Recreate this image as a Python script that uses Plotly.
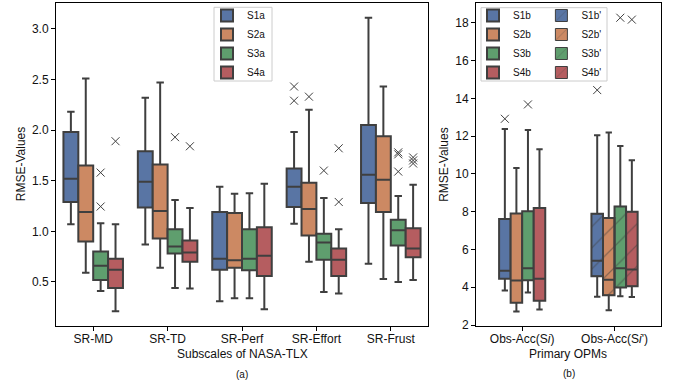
import plotly.graph_objects as go

# ---------------- data: panel (a) ----------------
categories_a = ["SR-MD", "SR-TD", "SR-Perf", "SR-Effort", "SR-Frust"]
names_a = ["S1a", "S2a", "S3a", "S4a"]
# each row: one series, values across the 5 categories
lower_a = [[1.07, 0.87, 0.31, 1.075, 0.68],
           [0.59, 0.64, 0.34, 0.70, 0.53],
           [0.41, 0.44, 0.34, 0.40, 0.50],
           [0.21, 0.435, 0.23, 0.385, 0.52]]
q1_a = [[1.29, 1.235, 0.62, 1.24, 1.28],
        [0.90, 0.93, 0.64, 0.96, 1.19],
        [0.52, 0.78, 0.615, 0.72, 0.86],
        [0.44, 0.70, 0.56, 0.56, 0.745]]
median_a = [[1.52, 1.49, 0.73, 1.44, 1.56],
            [1.19, 1.20, 0.715, 1.22, 1.51],
            [0.66, 0.85, 0.73, 0.89, 1.01],
            [0.62, 0.79, 0.76, 0.72, 0.83]]
q3_a = [[1.98, 1.79, 1.19, 1.62, 2.05],
        [1.65, 1.66, 1.18, 1.48, 1.94],
        [0.80, 1.02, 1.02, 0.975, 1.115],
        [0.73, 0.91, 1.04, 0.83, 1.03]]
upper_a = [[2.18, 2.32, 1.44, 1.98, 3.11],
           [2.51, 2.47, 1.37, 2.20, 2.43],
           [1.08, 1.31, 1.375, 1.33, 1.35],
           [1.07, 1.23, 1.47, 1.02, 1.46]]
outliers_a = [[[], [], [], [2.43, 2.29], []],
              [[], [], [], [2.33], []],
              [[1.58, 1.245], [1.93], [], [1.60], [1.78, 1.76, 1.59]],
              [[1.89], [1.84], [], [1.82, 1.29], [1.73, 1.70, 1.67]]]

# ---------------- data: panel (b) ----------------
categories_b = ["Obs-Acc(S<i>i</i>)", "Obs-Acc(S<i>i</i>')"]
names_b = ["S1b", "S2b", "S3b", "S4b"]
names_b2 = ["S1b'", "S2b'", "S3b'", "S4b'"]
lower_b = [3.83, 2.72, 3.73, 2.83]
q1_b = [4.45, 3.18, 4.37, 3.29]
median_b = [4.88, 4.36, 5.01, 4.45]
q3_b = [7.61, 7.91, 8.02, 8.20]
upper_b = [12.38, 10.31, 12.33, 11.31]
outliers_b = [[12.92], [], [13.68], []]

lower_b2 = [3.50, 2.79, 3.53, 3.48]
q1_b2 = [4.59, 3.58, 3.99, 4.06]
median_b2 = [5.41, 4.40, 5.01, 4.94]
q3_b2 = [7.89, 7.67, 8.28, 8.00]
upper_b2 = [12.05, 12.20, 11.48, 10.73]
outliers_b2 = [[14.44], [], [18.27], [18.17]]

# ---------------- styling ----------------
colors = ["#5975A4", "#CC8963", "#5F9E6E", "#B55D60"]
edge = "#3f3f3f"
FONT = "Liberation Sans, Arial, Helvetica, sans-serif"
W_A = 0.2
W_B = 0.125
OUT_MARKER = dict(symbol="x-thin-open", size=8, color=edge,
                  line=dict(color=edge, width=1))

fig = go.Figure()

# panel (a)
for i in range(4):
    pos = [j + (i - 1.5) * W_A for j in range(len(categories_a))]
    fig.add_trace(go.Box(
        x=pos, q1=q1_a[i], median=median_a[i], q3=q3_a[i],
        lowerfence=lower_a[i], upperfence=upper_a[i],
        width=W_A, fillcolor=colors[i], line=dict(color=edge, width=2),
        whiskerwidth=0.5, boxpoints=False, name=names_a[i],
        xaxis="x", yaxis="y", legend="legend", hoverinfo="skip"))
for i in range(4):
    ox, oy = [], []
    for j in range(len(categories_a)):
        for v in outliers_a[i][j]:
            ox.append(j + (i - 1.5) * W_A)
            oy.append(v)
    fig.add_trace(go.Scatter(
        x=ox, y=oy, mode="markers", showlegend=False, marker=OUT_MARKER,
        xaxis="x", yaxis="y", hoverinfo="skip"))

# panel (b) first category
for i in range(4):
    pos = [0 + (i - 1.5) * W_B]
    fig.add_trace(go.Box(
        x=pos, q1=[q1_b[i]], median=[median_b[i]], q3=[q3_b[i]],
        lowerfence=[lower_b[i]], upperfence=[upper_b[i]],
        width=W_B, fillcolor=colors[i], line=dict(color=edge, width=2),
        whiskerwidth=0.55, boxpoints=False, name=names_b[i],
        xaxis="x2", yaxis="y2", legend="legend2", hoverinfo="skip"))
    if outliers_b[i]:
        fig.add_trace(go.Scatter(
            x=pos * len(outliers_b[i]), y=outliers_b[i], mode="markers",
            showlegend=False, marker=OUT_MARKER,
            xaxis="x2", yaxis="y2", hoverinfo="skip"))

# panel (b) second category (hatched)
for i in range(4):
    pos = [1 + (i - 1.5) * W_B]
    fig.add_trace(go.Bar(
        x=pos, base=[q1_b2[i]], y=[q3_b2[i] - q1_b2[i]], width=[W_B],
        marker=dict(color=colors[i], line=dict(color=edge, width=1),
                    pattern=dict(shape="/", fgcolor=edge, bgcolor=colors[i],
                                 size=15, solidity=0.08)),
        name=names_b2[i], xaxis="x2", yaxis="y2", legend="legend3",
        hoverinfo="skip"))
    fig.add_trace(go.Box(
        x=pos, q1=[q1_b2[i]], median=[median_b2[i]], q3=[q3_b2[i]],
        lowerfence=[lower_b2[i]], upperfence=[upper_b2[i]],
        width=W_B, fillcolor="rgba(0,0,0,0)", line=dict(color=edge, width=2),
        whiskerwidth=0.55, boxpoints=False, name=names_b2[i], showlegend=False,
        xaxis="x2", yaxis="y2", hoverinfo="skip"))
    if outliers_b2[i]:
        fig.add_trace(go.Scatter(
            x=pos * len(outliers_b2[i]), y=outliers_b2[i], mode="markers",
            showlegend=False, marker=OUT_MARKER,
            xaxis="x2", yaxis="y2", hoverinfo="skip"))

axis_common = dict(showline=True, linecolor="black", linewidth=1, mirror=True,
                   ticks="outside", ticklen=4, tickcolor="black", tickwidth=1,
                   showgrid=False, zeroline=False, automargin=False,
                   tickfont=dict(family=FONT, size=12, color="#111"))
ydom = [1 - 326 / 386, 1 - 3 / 386]

legend_common = dict(xanchor="left", yanchor="top", bgcolor="rgba(0,0,0,0)",
                     borderwidth=0, tracegroupgap=0, traceorder="normal",
                     font=dict(family=FONT, size=10, color="#111"))


def ann(text, x, y, size=12, angle=0):
    return dict(text=text, x=x / 677, y=1 - y / 386, xref="paper",
                yref="paper", xanchor="center", yanchor="middle",
                textangle=angle, showarrow=False,
                font=dict(family=FONT, size=size, color="#111"))


fig.update_layout(
    width=677, height=386,
    margin=dict(l=0, r=0, t=0, b=0, autoexpand=False),
    paper_bgcolor="white", plot_bgcolor="white",
    boxmode="overlay", barmode="overlay",
    font=dict(family=FONT, size=12, color="#111"),
    xaxis=dict(domain=[56 / 677, 428 / 677], range=[-0.5, 4.5],
               tickvals=list(range(len(categories_a))), ticktext=categories_a,
               ticklabelstandoff=-2, anchor="y", **axis_common),
    yaxis=dict(domain=ydom, range=[0.065, 3.255],
               tickvals=[0.5, 1.0, 1.5, 2.0, 2.5, 3.0], tickformat=".1f",
               anchor="x", **axis_common),
    xaxis2=dict(domain=[476 / 677, 660.7 / 677], range=[-0.5, 1.5],
                tickvals=[0, 1], ticktext=categories_b,
                ticklabelstandoff=-2, anchor="y2", **axis_common),
    yaxis2=dict(domain=ydom, range=[1.95, 19.05],
                tickvals=[2, 4, 6, 8, 10, 12, 14, 16, 18],
                anchor="x2", **axis_common),
    legend=dict(x=207 / 677, y=1 - 1 / 386, **legend_common),
    legend2=dict(x=473 / 677, y=1 - 1 / 386, **legend_common),
    legend3=dict(x=541.4 / 677, y=1 - 1 / 386, **legend_common),
    shapes=[
        dict(type="rect", xref="paper", yref="paper",
             x0=214 / 677, x1=272 / 677, y0=1 - 81 / 386, y1=1 - 7.3 / 386,
             line=dict(color="#cccccc", width=1), fillcolor="white",
             layer="above"),
        dict(type="rect", xref="paper", yref="paper",
             x0=481 / 677, x1=607 / 677, y0=1 - 81 / 386, y1=1 - 7.7 / 386,
             line=dict(color="#cccccc", width=1), fillcolor="white",
             layer="above")],
    annotations=[
        ann("RMSE-Values", 21.7, 164.5, angle=-90),
        ann("RMSE-Values", 444.3, 164.5, angle=-90),
        ann("Subscales of NASA-TLX", 242, 354),
        ann("Primary OPMs", 568.3, 354),
        ann("(a)", 241.7, 374, size=10),
        ann("(b)", 568.7, 373, size=10),
    ],
)

fig.write_html("out.html", config={"displayModeBar": False},
               post_script="document.body.style.margin='0px';")
